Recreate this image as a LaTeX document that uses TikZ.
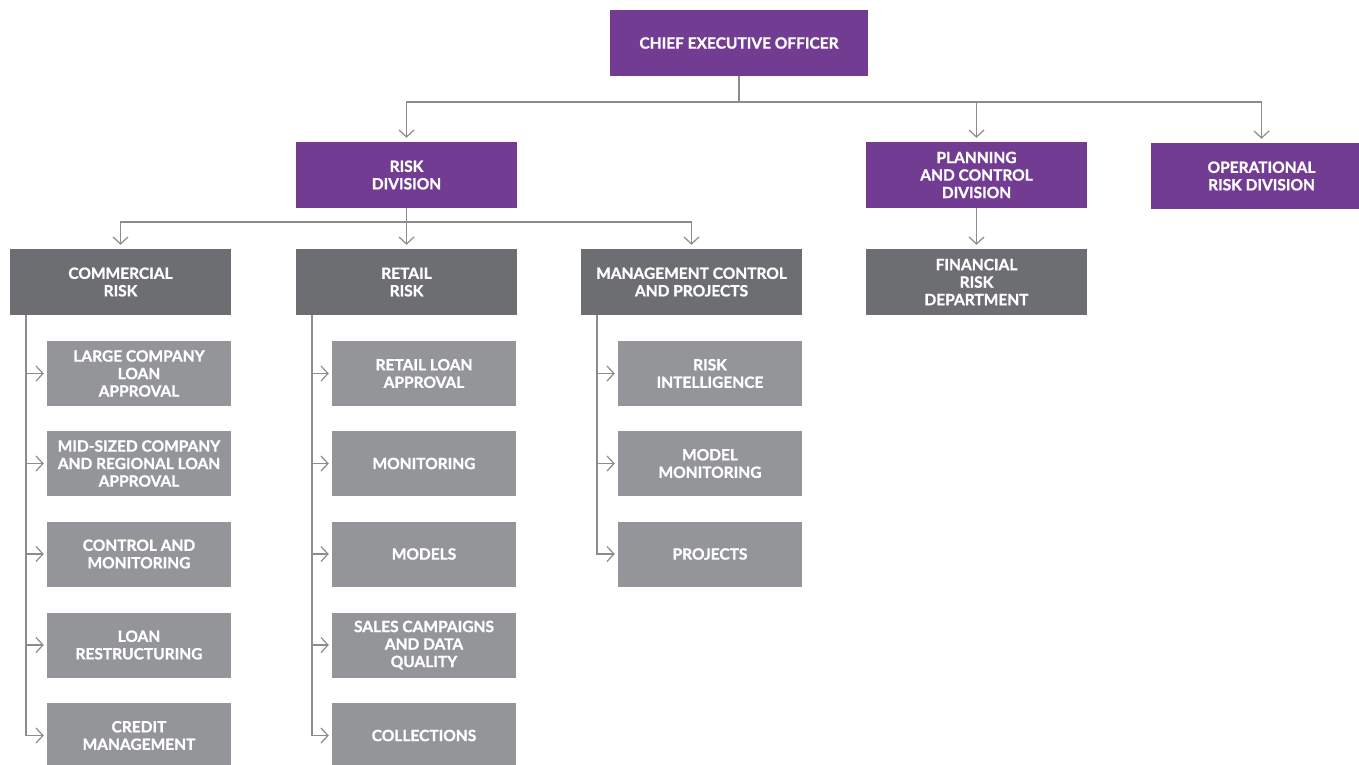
\documentclass[tikz,border=0pt]{standalone}
\usepackage{fontspec}
\setmainfont{Lato}[BoldFeatures={FakeBold=1.2}]
\usetikzlibrary{arrows.meta}
\definecolor{divpurple}{HTML}{733C93}
\definecolor{deptgray}{HTML}{6D6E71}
\definecolor{unitgray}{HTML}{939598}
\definecolor{linegray}{HTML}{8C8C8C}

\begin{document}
\begin{tikzpicture}[x=1pt,y=-1pt,
	division/.style={fill=divpurple,text=white,font=\bfseries\fontsize{15.5}{17.5}\selectfont,align=center,minimum width=221pt,minimum height=66pt,inner sep=0pt},
	department/.style={division,fill=deptgray},
	unit/.style={division,fill=unitgray,minimum width=184pt,minimum height=65pt},
	link/.style={draw=linegray,line width=1.2pt,-{Straight Barb[length=7pt,width=15pt]},shorten >=4pt}]
		
		\useasboundingbox (0,0) rectangle (1359,764);
		
		\node[division,minimum width=258pt] (ceo) at (739,43) {CHIEF EXECUTIVE OFFICER};
		
		\node[division] (risk) at (406.5,175) {RISK\\DIVISION};
		\node[division] (plan) at (976.5,175) {PLANNING\\AND CONTROL\\DIVISION};
		\node[division] (oper) at (1261.5,176) {OPERATIONAL\\RISK DIVISION};
		
		\node[department] (com) at (120.5,282) {COMMERCIAL\\RISK};
		\node[department] (ret) at (406.5,282) {RETAIL\\RISK};
		\node[department] (mgmt) at (691.5,282) {MANAGEMENT CONTROL\\AND PROJECTS};
		\node[department] (fin) at (976.5,282) {FINANCIAL\\RISK\\DEPARTMENT};
		
		\node[unit] (com1) at (139,373.5) {LARGE COMPANY\\LOAN\\APPROVAL};
		\node[unit] (com2) at (139,463.5) {MID-SIZED COMPANY\\AND REGIONAL LOAN\\APPROVAL};
		\node[unit] (com3) at (139,554) {CONTROL AND\\MONITORING};
		\node[unit] (com4) at (139,645) {LOAN\\RESTRUCTURING};
		\node[unit] (com5) at (139,735.5) {CREDIT\\MANAGEMENT};
		
		\node[unit] (ret1) at (424,373.5) {RETAIL LOAN\\APPROVAL};
		\node[unit] (ret2) at (424,463.5) {MONITORING};
		\node[unit] (ret3) at (424,554) {MODELS};
		\node[unit] (ret4) at (424,645) {SALES CAMPAIGNS\\AND DATA\\QUALITY};
		\node[unit] (ret5) at (424,735.5) {COLLECTIONS};
		
		\node[unit] (mgmt1) at (710,373.5) {RISK\\INTELLIGENCE};
		\node[unit] (mgmt2) at (710,463.5) {MODEL\\MONITORING};
		\node[unit] (mgmt3) at (710,554) {PROJECTS};
		
		
		\coordinate (ceobus) at (739,102);
		\draw[link] (ceo.south) -- (ceobus) -| (risk.north);
		\draw[link] (ceo.south) -- (ceobus) -| (plan.north);
		\draw[link] (ceo.south) -- (ceobus) -| (oper.north);
		
		\coordinate (riskbus) at (406.5,222);
		\draw[link] (risk.south) -- (riskbus) -| (com.north);
		\draw[link] (risk.south) -- (riskbus) -| (ret.north);
		\draw[link] (risk.south) -- (riskbus) -| (mgmt.north);
		
		\draw[link] (plan) -- (fin);
		
		\coordinate (comtrunk) at (26,315);
		\draw[link,shorten >=3pt] (comtrunk) |- (com1.west);
		\draw[link,shorten >=3pt] (comtrunk) |- (com2.west);
		\draw[link,shorten >=3pt] (comtrunk) |- (com3.west);
		\draw[link,shorten >=3pt] (comtrunk) |- (com4.west);
		\draw[link,shorten >=3pt] (comtrunk) |- (com5.west);
		
		\coordinate (rettrunk) at (312,315);
		\draw[link,shorten >=3pt] (rettrunk) |- (ret1.west);
		\draw[link,shorten >=3pt] (rettrunk) |- (ret2.west);
		\draw[link,shorten >=3pt] (rettrunk) |- (ret3.west);
		\draw[link,shorten >=3pt] (rettrunk) |- (ret4.west);
		\draw[link,shorten >=3pt] (rettrunk) |- (ret5.west);
		
		\coordinate (mgmttrunk) at (597,315);
		\draw[link,shorten >=3pt] (mgmttrunk) |- (mgmt1.west);
		\draw[link,shorten >=3pt] (mgmttrunk) |- (mgmt2.west);
		\draw[link,shorten >=3pt] (mgmttrunk) |- (mgmt3.west);
		
		
		
\end{tikzpicture}
\end{document}
